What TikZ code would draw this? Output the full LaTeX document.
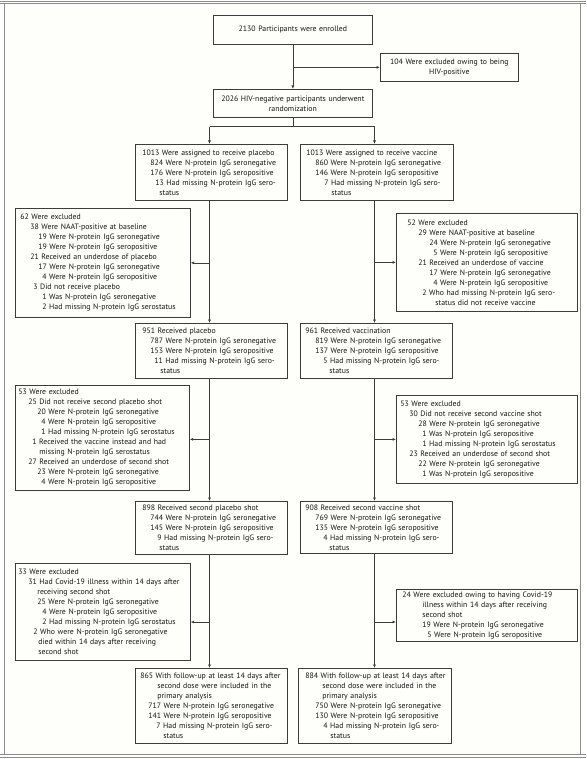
\documentclass[tikz,border=0pt]{standalone}
\usepackage{fontspec}
\setmainfont{PT Sans}
\usetikzlibrary{arrows.meta}
\definecolor{framec}{RGB}{140,140,140}
\definecolor{boxc}{RGB}{60,60,60}
\definecolor{txtc}{RGB}{20,20,20}
\definecolor{bgc}{RGB}{254,254,250}
\newcommand{\Ln}[2]{\mbox{\hspace*{#1pt}#2}}
\begin{document}
\begin{tikzpicture}[x=1pt,y=-1pt,
  box/.style={draw=boxc, line width=0.7pt, anchor=north west, inner ysep=0pt, align=left, text=txtc, font=\fontsize{7.8}{10}\selectfont},
  cbox/.style={box, align=center},
  arr/.style={draw=boxc, line width=0.7pt, -{Latex[length=3.5pt,width=3pt]}},
  con/.style={draw=boxc, line width=0.7pt},
  frm/.style={draw=framec, line width=0.9pt}]
\useasboundingbox (0,0) rectangle (586,759);
\fill[bgc] (4,3.7) rectangle (580,754);
\draw[frm] (0,1) -- (586,1);
\draw[frm] (0,3.7) -- (586,3.7);
\draw[frm] (4,3.7) -- (4,754);
\draw[frm] (580,3.7) -- (580,754);
\draw[frm] (0,754) -- (586,754);
\draw[frm] (0,757.5) -- (586,757.5);

% top
\node[cbox, minimum width=159pt, minimum height=29pt, text width=150pt, inner xsep=4.5pt] (en) at (213,15) {2130 Participants were enrolled};
\node[cbox, minimum width=138pt, minimum height=28pt, text width=130pt, inner xsep=4pt] (xh) at (380,53) {104 Were excluded owing to being\\HIV-positive};
\node[cbox, minimum width=159pt, minimum height=28pt, text width=150pt, inner xsep=4.5pt] (rd) at (213,89) {2026 HIV-negative participants underwent\\randomization};

% level 1
\node[box, minimum width=152pt, minimum height=56pt, text width=138pt, inner xsep=7pt] (A) at (135,144) {%
\Ln{0}{1013 Were assigned to receive placebo}\\
\Ln{8}{824 Were N-protein IgG seronegative}\\
\Ln{8}{176 Were N-protein IgG seropositive}\\
\Ln{13}{13 Had missing N-protein IgG sero-}\\
\Ln{17}{status}};
\node[box, minimum width=153pt, minimum height=56pt, text width=141pt, inner xsep=6pt] (B) at (300,144) {%
\Ln{0}{1013 Were assigned to receive vaccine}\\
\Ln{9}{860 Were N-protein IgG seronegative}\\
\Ln{9}{146 Were N-protein IgG seropositive}\\
\Ln{18}{7 Had missing N-protein IgG sero-}\\
\Ln{25}{status}};

\node[box, minimum width=175pt, minimum height=109pt, text width=165pt, inner xsep=5pt] (C) at (15,208) {%
\Ln{0}{62 Were excluded}\\
\Ln{10}{38 Were NAAT-positive at baseline}\\
\Ln{18}{19 Were N-protein IgG seronegative}\\
\Ln{18}{19 Were N-protein IgG seropositive}\\
\Ln{10}{21 Received an underdose of placebo}\\
\Ln{18}{17 Were N-protein IgG seronegative}\\
\Ln{22}{4 Were N-protein IgG seropositive}\\
\Ln{13}{3 Did not receive placebo}\\
\Ln{22}{1 Was N-protein IgG seronegative}\\
\Ln{22}{2 Had missing N-protein IgG serostatus}};
\node[box, minimum width=181pt, minimum height=98pt, text width=159pt, inner xsep=11pt] (D) at (396,213) {%
\Ln{0}{52 Were excluded}\\
\Ln{11}{29 Were NAAT-positive at baseline}\\
\Ln{22}{24 Were N-protein IgG seronegative}\\
\Ln{26}{5 Were N-protein IgG seropositive}\\
\Ln{11}{21 Received an underdose of vaccine}\\
\Ln{22}{17 Were N-protein IgG seronegative}\\
\Ln{26}{4 Were N-protein IgG seropositive}\\
\Ln{15}{2 Who had missing N-protein IgG sero-}\\
\Ln{28}{status did not receive vaccine}};

% level 2
\node[box, minimum width=152pt, minimum height=55pt, text width=138pt, inner xsep=7pt] (E) at (135,323) {%
\Ln{0}{951 Received placebo}\\
\Ln{8}{787 Were N-protein IgG seronegative}\\
\Ln{8}{153 Were N-protein IgG seropositive}\\
\Ln{12}{11 Had missing N-protein IgG sero-}\\
\Ln{18}{status}};
\node[box, minimum width=152pt, minimum height=55pt, text width=142pt, inner xsep=5pt] (F) at (300,323) {%
\Ln{0}{961 Received vaccination}\\
\Ln{10}{819 Were N-protein IgG seronegative}\\
\Ln{10}{137 Were N-protein IgG seropositive}\\
\Ln{18}{5 Had missing N-protein IgG sero-}\\
\Ln{24}{status}};

\node[box, minimum width=174pt, minimum height=105pt, text width=168pt, inner xsep=3pt] (G) at (15,385) {%
\Ln{0}{53 Were excluded}\\
\Ln{10}{25 Did not receive second placebo shot}\\
\Ln{19}{20 Were N-protein IgG seronegative}\\
\Ln{23}{4 Were N-protein IgG seropositive}\\
\Ln{23}{1 Had missing N-protein IgG serostatus}\\
\Ln{14}{1 Received the vaccine instead and had}\\
\Ln{21}{missing N-protein IgG serostatus}\\
\Ln{10}{27 Received an underdose of second shot}\\
\Ln{19}{23 Were N-protein IgG seronegative}\\
\Ln{23}{4 Were N-protein IgG seropositive}};
\node[box, minimum width=181pt, minimum height=88pt, text width=173pt, inner xsep=4pt] (H) at (396,395) {%
\Ln{0}{53 Were excluded}\\
\Ln{9}{30 Did not receive second vaccine shot}\\
\Ln{18}{28 Were N-protein IgG seronegative}\\
\Ln{22}{1 Was N-protein IgG seropositive}\\
\Ln{22}{1 Had missing N-protein IgG serostatus}\\
\Ln{9}{23 Received an underdose of second shot}\\
\Ln{18}{22 Were N-protein IgG seronegative}\\
\Ln{22}{1 Was N-protein IgG seropositive}};

% level 3
\node[box, minimum width=152pt, minimum height=53pt, text width=138pt, inner xsep=7pt] (I) at (135,501) {%
\Ln{0}{898 Received second placebo shot}\\
\Ln{8}{744 Were N-protein IgG seronegative}\\
\Ln{8}{145 Were N-protein IgG seropositive}\\
\Ln{15}{9 Had missing N-protein IgG sero-}\\
\Ln{17}{status}};
\node[box, minimum width=152pt, minimum height=52pt, text width=142pt, inner xsep=5pt] (J) at (300,501) {%
\Ln{0}{908 Received second vaccine shot}\\
\Ln{10}{769 Were N-protein IgG seronegative}\\
\Ln{10}{135 Were N-protein IgG seropositive}\\
\Ln{18}{4 Had missing N-protein IgG sero-}\\
\Ln{24}{status}};

\node[box, minimum width=175pt, minimum height=97pt, text width=169pt, inner xsep=3pt] (K) at (15,563) {%
\Ln{0}{33 Were excluded}\\
\Ln{10}{31 Had Covid-19 illness within 14 days after}\\
\Ln{19}{receiving second shot}\\
\Ln{19}{25 Were N-protein IgG seronegative}\\
\Ln{24}{4 Were N-protein IgG seropositive}\\
\Ln{24}{2 Had missing N-protein IgG serostatus}\\
\Ln{15}{2 Who were N-protein IgG seronegative}\\
\Ln{20}{died within 14 days after receiving}\\
\Ln{20}{second shot}};
\node[box, minimum width=181pt, minimum height=52pt, text width=169pt, inner xsep=6pt] (L) at (396,589) {%
\Ln{0}{24 Were excluded owing to having Covid-19}\\
\Ln{20}{illness within 14 days after receiving}\\
\Ln{20}{second shot}\\
\Ln{20}{19 Were N-protein IgG seronegative}\\
\Ln{25}{5 Were N-protein IgG seropositive}};

% level 4
\node[box, minimum width=152pt, minimum height=75pt, text width=142pt, inner xsep=5pt] (M) at (135,668) {%
\Ln{0}{865 With follow-up at least 14 days after}\\
\Ln{17}{second dose were included in the}\\
\Ln{17}{primary analysis}\\
\Ln{8}{717 Were N-protein IgG seronegative}\\
\Ln{8}{141 Were N-protein IgG seropositive}\\
\Ln{16}{7 Had missing N-protein IgG sero-}\\
\Ln{23}{status}};
\node[box, minimum width=153pt, minimum height=75pt, text width=139pt, inner xsep=7pt] (N) at (298,668) {%
\Ln{0}{884 With follow-up at least 14 days after}\\
\Ln{17}{second dose were included in the}\\
\Ln{17}{primary analysis}\\
\Ln{10}{750 Were N-protein IgG seronegative}\\
\Ln{10}{130 Were N-protein IgG seropositive}\\
\Ln{18}{4 Had missing N-protein IgG sero-}\\
\Ln{25}{status}};

% connectors
\coordinate (sL) at (209.5,0);
\coordinate (sR) at (374.5,0);
\draw[arr] (en.south) -- (rd.north);
\draw[arr] (en.south |- xh.west) -- (xh.west);
\draw[con] (rd.south) -- ++(0,9) coordinate (spl);
\draw[con] (spl -| sL) -- (spl -| sR);
\draw[arr] (spl -| sL) -- (A.north -| sL);
\draw[arr] (spl -| sR) -- (B.north -| sR);
\draw[arr] (A.south -| sL) -- (E.north -| sL);
\draw[arr] (B.south -| sR) -- (F.north -| sR);
\draw[arr] (E.south -| sL) -- (I.north -| sL);
\draw[arr] (F.south -| sR) -- (J.north -| sR);
\draw[arr] (I.south -| sL) -- (M.north -| sL);
\draw[arr] (J.south -| sR) -- (N.north -| sR);
\draw[arr] (sL |- C.east) -- (C.east);
\draw[arr] (sR |- D.west) -- (D.west);
\draw[arr] (sL |- H.west) -- (sL |- H.west -| G.east);
\draw[arr] (sR |- H.west) -- (H.west);
\path (sL) ++(0,622) coordinate (bK);
\path (sR) ++(0,622) coordinate (bL);
\draw[arr] (bK) -- (bK -| K.east);
\draw[arr] (bL) -- (bL -| L.west);
\end{tikzpicture}
\end{document}
